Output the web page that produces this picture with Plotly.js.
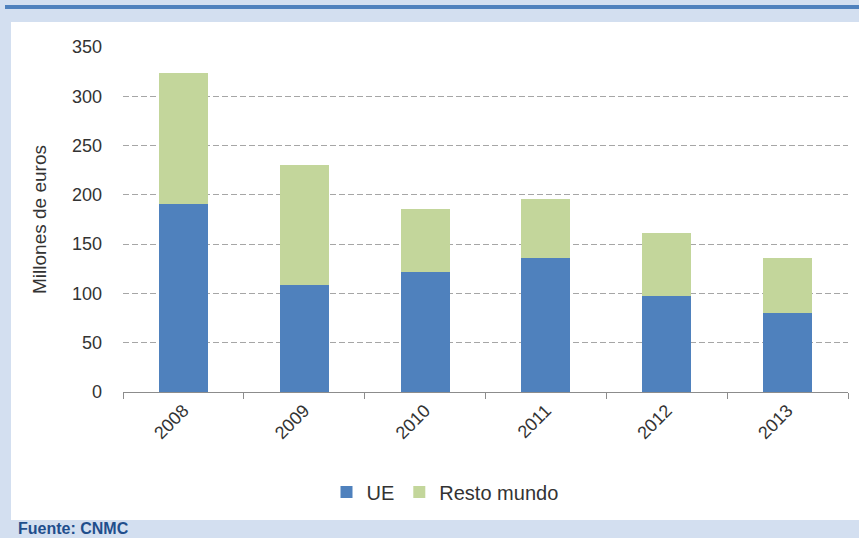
<!DOCTYPE html>
<html>
<head>
<meta charset="utf-8">
<script src="https://cdn.plot.ly/plotly-3.0.1.min.js"></script>
<style>
html,body{margin:0;padding:0;background:#d3dff0;}
#chart{width:859px;height:538px;}
</style>
</head>
<body>
<div id="chart"></div>
<script>
// Data
var years = ['2008', '2009', '2010', '2011', '2012', '2013'];
var ue = [191, 109, 122, 136, 97, 80];
var restoMundo = [133, 121, 64, 60, 64, 56];
var seriesNames = ['UE', 'Resto mundo'];
var yTicks = [0, 50, 100, 150, 200, 250, 300, 350];

var W = 859, H = 538;
var L = 123, R = 11, T = 47, B = 146;
var pw = W - L - R, ph = H - T - B;
function px(x) { return (x - L) / pw; }
function py(y) { return (H - B - y) / ph; }

var font = 'Liberation Sans, Arial, sans-serif';

var traces = [
  {type: 'bar', name: seriesNames[0], x: years, y: ue,
   marker: {color: '#4f81bd'}, hoverinfo: 'x+y+name'},
  {type: 'bar', name: seriesNames[1], x: years, y: restoMundo,
   marker: {color: '#c3d69b'}, hoverinfo: 'x+y+name'}
];

var layout = {
  width: W, height: H,
  margin: {l: L, r: R, t: T, b: B, pad: 0},
  paper_bgcolor: '#d3dff0',
  plot_bgcolor: 'rgba(0,0,0,0)',
  barmode: 'stack',
  bargap: 0.595,
  font: {family: font, color: '#404040', size: 18},
  xaxis: {
    type: 'category',
    showgrid: false,
    showline: true, linecolor: '#8c8c8c', linewidth: 1,
    ticks: 'outside', ticklen: 6, tickcolor: '#8c8c8c',
    tickson: 'boundaries',
    tickangle: -45,
    tickfont: {size: 18, color: '#333333'},
    fixedrange: true
  },
  yaxis: {
    range: [0, 350],
    tickvals: yTicks,
    showgrid: true, gridcolor: '#a6a6a6', griddash: '6px,3px', gridwidth: 1,
    zeroline: false, showline: false,
    ticks: '', ticklabelstandoff: 20,
    tickfont: {size: 18, color: '#333333'},
    title: {text: 'Millones de euros', font: {size: 19, color: '#333333'}, standoff: 20},
    fixedrange: true
  },
  legend: {
    orientation: 'h', x: px(445), xanchor: 'center', y: py(492), yanchor: 'middle',
    font: {size: 20, color: '#333333'}, bgcolor: 'rgba(0,0,0,0)',
    itemwidth: 30, traceorder: 'normal'
  },
  shapes: [
    {type: 'rect', xref: 'paper', yref: 'paper', layer: 'below',
     x0: px(11), x1: px(W + 2), y0: py(520), y1: py(22),
     fillcolor: '#ffffff', line: {width: 0}},
    {type: 'rect', xref: 'paper', yref: 'paper', layer: 'below',
     x0: px(5), x1: px(W + 2), y0: py(9), y1: py(5),
     fillcolor: '#4f81bd', line: {width: 0}}
  ],
  annotations: [
    {xref: 'paper', yref: 'paper', x: px(16), y: py(528), xanchor: 'left', yanchor: 'middle',
     text: '<b>Fuente: CNMC</b>', showarrow: false,
     font: {family: font, size: 16, color: '#1f4e8c'}}
  ]
};

Plotly.newPlot('chart', traces, layout, {displayModeBar: false, staticPlot: true});
</script>
</body>
</html>
